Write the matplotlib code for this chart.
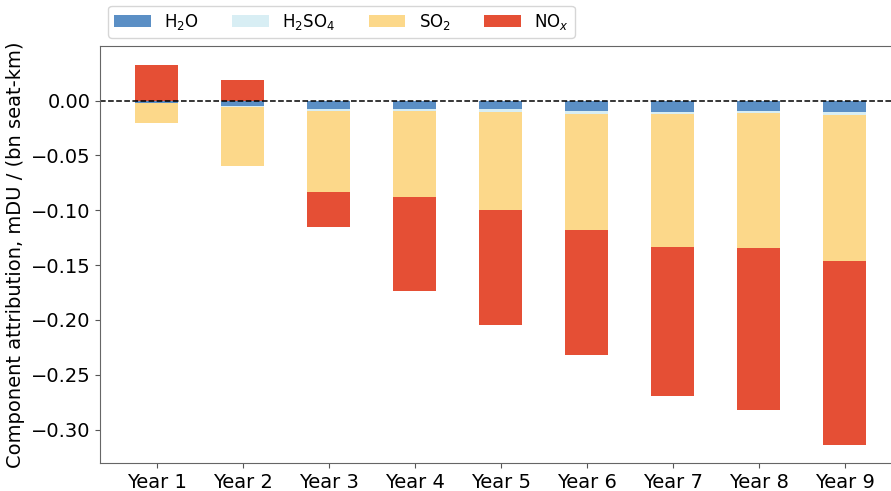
import matplotlib
matplotlib.use("Agg")
import matplotlib.pyplot as plt
import numpy as np

YEARS = ["Year 1", "Year 2", "Year 3", "Year 4", "Year 5",
         "Year 6", "Year 7", "Year 8", "Year 9"]
H2O = [-0.0020, -0.0047, -0.0078, -0.0078, -0.0078, -0.0096, -0.0105, -0.0096, -0.0105]
H2SO4 = [-0.0003, -0.0009, -0.0015, -0.0018, -0.0027, -0.0024, -0.0015, -0.0018, -0.0027]
SO2 = [-0.0182, -0.0541, -0.0741, -0.0784, -0.0893, -0.1060, -0.1216, -0.1231, -0.1332]
NOX = [0.0324, 0.0187, -0.0319, -0.0854, -0.1049, -0.1140, -0.1354, -0.1477, -0.1676]

COMPONENTS = [
    ("H$_2$O", H2O, "#5b8fc5"),
    ("H$_2$SO$_4$", H2SO4, "#d8eef4"),
    ("SO$_2$", SO2, "#fcd88a"),
    ("NO$_x$", NOX, "#e54f35"),
]


def main():
    fig = plt.figure(figsize=(8.91, 4.91), dpi=100)
    # axes runs slightly past the right edge of the figure, as in the original crop
    ax = fig.add_axes([100 / 891, 28 / 491, 801.5 / 891, 417 / 491])

    x = np.arange(len(YEARS))
    pos_bottom = np.zeros(len(YEARS))
    neg_bottom = np.zeros(len(YEARS))
    for label, vals, color in COMPONENTS:
        vals = np.asarray(vals)
        bottom = np.where(vals >= 0, pos_bottom, neg_bottom)
        ax.bar(x, vals, width=0.5, bottom=bottom, color=color, label=label, linewidth=0)
        pos_bottom = pos_bottom + np.clip(vals, 0, None)
        neg_bottom = neg_bottom + np.clip(vals, None, 0)

    ax.axhline(0, color="black", linestyle="--", linewidth=1.1)

    ax.set_xlim(-0.66, 8.66)
    ax.set_ylim(-0.3305, 0.0497)
    ax.set_yticks(np.arange(-0.30, 0.001, 0.05))
    ax.set_xticks(x)
    ax.set_xticklabels(YEARS)
    ax.tick_params(labelsize=14, color="#555555")
    ax.set_ylabel("Component attribution, mDU / (bn seat-km)", fontsize=14)
    for side in ["left", "bottom", "top", "right"]:
        ax.spines[side].set_color("#666666")

    ax.legend(loc="lower left", bbox_to_anchor=(0.0, 1.0), ncol=4, fontsize=12,
              borderaxespad=0.5, handlelength=2.2, handleheight=0.8,
              columnspacing=2.0, borderpad=0.35)

    fig.savefig("out.png", dpi=100)
    plt.close(fig)


if __name__ == "__main__":
    main()
